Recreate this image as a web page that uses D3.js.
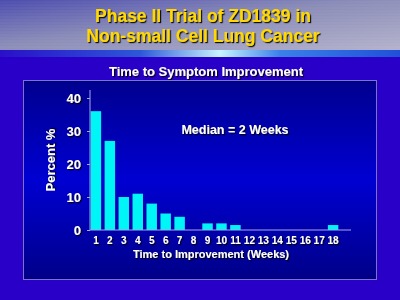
<!DOCTYPE html>
<html>
<head>
<meta charset="utf-8">
<script src="https://cdn.jsdelivr.net/npm/d3@7"></script>
<style>
  body { margin: 0; background: #2800c8; }
  svg { display: block; }
</style>
</head>
<body>
<div id="chart"></div>
<script>
// chart data
var weeks = [1, 2, 3, 4, 5, 6, 7, 8, 9, 10, 11, 12, 13, 14, 15, 16, 17, 18];
var percent = [36, 27, 10, 11, 8, 5, 4, 0, 2, 2, 1.5, 0, 0, 0, 0, 0, 0, 1.5];
var yTicks = [0, 10, 20, 30, 40];
var titleLines = ['Phase II Trial of ZD1839 in', 'Non-small Cell Lung Cancer'];
var subtitle = 'Time to Symptom Improvement';
var note = 'Median = 2 Weeks';
var xTitle = 'Time to Improvement (Weeks)';
var yTitle = 'Percent %';

var width = 400, height = 300;

var svg = d3.select('#chart').append('svg')
    .attr('width', width)
    .attr('height', height)
    .style('font-family', 'Liberation Sans, Arial, sans-serif');

var defs = svg.append('defs');

// header gradient
var hg = defs.append('linearGradient').attr('id', 'head')
    .attr('x1', 0).attr('y1', 0).attr('x2', 1).attr('y2', 1);
hg.append('stop').attr('offset', '0%').attr('stop-color', '#4c4cae');
hg.append('stop').attr('offset', '45%').attr('stop-color', '#8a8cb8');
hg.append('stop').attr('offset', '100%').attr('stop-color', '#b4b2cc');

// glowing band
var bg = defs.append('linearGradient').attr('id', 'band')
    .attr('x1', 0).attr('y1', 0).attr('x2', 1).attr('y2', 0);
bg.append('stop').attr('offset', '0%').attr('stop-color', '#2a10c8');
bg.append('stop').attr('offset', '35%').attr('stop-color', '#2c58d8');
bg.append('stop').attr('offset', '55%').attr('stop-color', '#c8f4ff');
bg.append('stop').attr('offset', '70%').attr('stop-color', '#3a80e8');
bg.append('stop').attr('offset', '100%').attr('stop-color', '#2050d8');

// panel gradient
var pg = defs.append('linearGradient').attr('id', 'panel')
    .attr('x1', 0).attr('y1', 0).attr('x2', 0).attr('y2', 1);
pg.append('stop').attr('offset', '0%').attr('stop-color', '#00008e');
pg.append('stop').attr('offset', '50%').attr('stop-color', '#0000d2');
pg.append('stop').attr('offset', '100%').attr('stop-color', '#000088');

var shadow = defs.append('filter').attr('id', 'shadow')
    .attr('x', '-10%').attr('y', '-20%').attr('width', '130%').attr('height', '160%');
shadow.append('feDropShadow')
    .attr('dx', 1.2).attr('dy', 1.2).attr('stdDeviation', 0.2)
    .attr('flood-color', '#000').attr('flood-opacity', 0.9);

svg.append('rect')
    .attr('width', width).attr('height', height)
    .attr('fill', '#2800c8');

svg.append('rect')
    .attr('width', width).attr('height', 50)
    .attr('fill', 'url(#head)');

// faint stripes across the header
svg.append('g').selectAll('line')
    .data(d3.range(2, 48, 3))
    .enter().append('line')
        .attr('x1', 0).attr('x2', width)
        .attr('y1', d => d).attr('y2', d => d)
        .attr('stroke', '#ffffff')
        .attr('stroke-opacity', 0.06);

svg.append('rect')
    .attr('y', 50).attr('width', width).attr('height', 7)
    .attr('fill', 'url(#band)');

svg.append('g')
    .attr('filter', 'url(#shadow)')
    .selectAll('text')
    .data(titleLines)
    .enter().append('text')
        .attr('x', 203)
        .attr('y', (d, i) => 22 + i * 20)
        .attr('text-anchor', 'middle')
        .attr('font-size', 17.5)
        .attr('font-weight', 'bold')
        .attr('fill', '#ffd800')
        .text(d => d);

svg.append('text')
    .attr('x', 206).attr('y', 76)
    .attr('text-anchor', 'middle')
    .attr('font-size', 13)
    .attr('font-weight', 'bold')
    .attr('fill', '#ffffff')
    .attr('filter', 'url(#shadow)')
    .text(subtitle);

// chart panel
svg.append('rect')
    .attr('x', 23.5).attr('y', 80.5)
    .attr('width', 353).attr('height', 199)
    .attr('fill', 'url(#panel)')
    .attr('stroke', '#7a74c8')
    .attr('stroke-width', 1);

var x = d3.scaleBand()
    .domain(weeks)
    .range([89, 340])
    .paddingInner(0.25)
    .paddingOuter(0.12);

var y = d3.scaleLinear()
    .domain([0, 40])
    .range([230, 98]);

var plot = svg.append('g');

plot.selectAll('.bar')
    .data(weeks)
    .enter().append('rect')
        .attr('class', 'bar')
        .attr('x', d => x(d))
        .attr('width', x.bandwidth())
        .attr('y', (d, i) => y(percent[i]))
        .attr('height', (d, i) => y(0) - y(percent[i]))
        .attr('fill', '#00f6f6');

// axes
var yAxis = plot.append('g')
    .attr('transform', 'translate(90,0)')
    .call(d3.axisLeft(y).tickValues(yTicks).tickSize(3).tickPadding(6));
yAxis.select('.domain').remove();
yAxis.append('line')
    .attr('y1', 90).attr('y2', 230)
    .attr('stroke', '#aaa8e0');
yAxis.selectAll('.tick line').attr('stroke', '#aaa8e0');
yAxis.selectAll('.tick text')
    .attr('fill', '#ffffff')
    .attr('font-size', 13)
    .attr('font-weight', 'bold')
    .attr('filter', 'url(#shadow)');

var xAxis = plot.append('g')
    .attr('transform', 'translate(0,230)')
    .call(d3.axisBottom(x).tickSize(0).tickPadding(7));
xAxis.select('.domain').remove();
xAxis.append('line')
    .attr('x1', 90).attr('x2', 351)
    .attr('stroke', '#aaa8e0');
xAxis.selectAll('.tick text')
    .attr('fill', '#ffffff')
    .attr('font-size', 10)
    .attr('font-weight', 'bold')
    .attr('filter', 'url(#shadow)');

svg.append('text')
    .attr('x', 211).attr('y', 258)
    .attr('text-anchor', 'middle')
    .attr('font-size', 11)
    .attr('font-weight', 'bold')
    .attr('fill', '#ffffff')
    .attr('filter', 'url(#shadow)')
    .text(xTitle);

svg.append('text')
    .attr('transform', 'translate(55,160) rotate(-90)')
    .attr('text-anchor', 'middle')
    .attr('font-size', 13)
    .attr('font-weight', 'bold')
    .attr('fill', '#ffffff')
    .attr('filter', 'url(#shadow)')
    .text(yTitle);

svg.append('text')
    .attr('x', 235).attr('y', 134)
    .attr('text-anchor', 'middle')
    .attr('font-size', 12.5)
    .attr('font-weight', 'bold')
    .attr('fill', '#ffffff')
    .attr('filter', 'url(#shadow)')
    .text(note);
</script>
</body>
</html>
